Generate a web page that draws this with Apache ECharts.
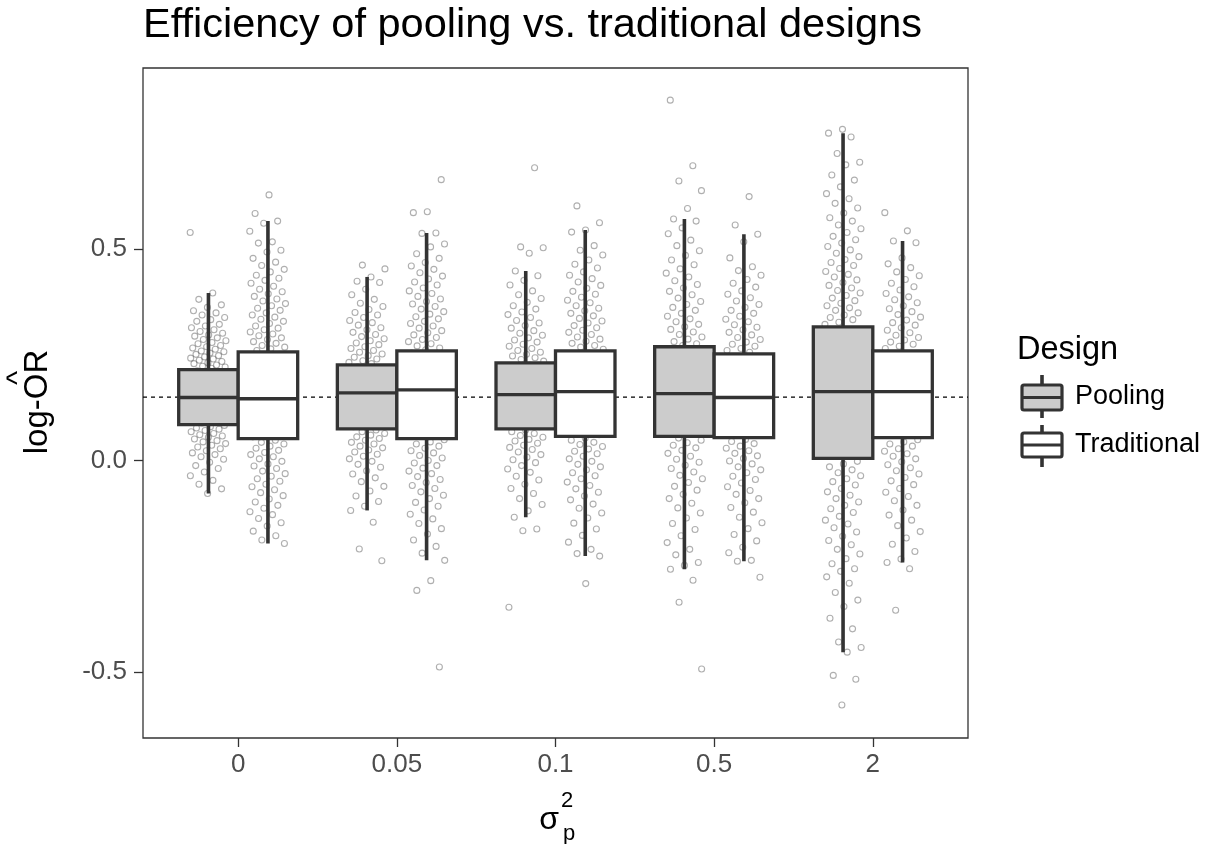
<!DOCTYPE html>
<html>
<head>
<meta charset="utf-8">
<script src="https://cdn.jsdelivr.net/npm/echarts@6/dist/echarts.min.js"></script>
<style>
html,body{margin:0;padding:0;background:#fff;}
#chart{width:1209px;height:844px;}
</style>
</head>
<body>
<div id="chart"></div>
<script>
// ---------------- data ----------------
const categories = ['0', '0.05', '0.1', '0.5', '2'];
const designs = ['Pooling', 'Traditional'];
const yTicks = [-0.5, 0, 0.5];
const trueLogOR = 0.15;

// [lower whisker, Q1, median, Q3, upper whisker]
const poolingStats = [
  [-0.078, 0.085, 0.149, 0.215, 0.396],
  [-0.118, 0.075, 0.160, 0.226, 0.434],
  [-0.134, 0.075, 0.156, 0.231, 0.448],
  [-0.257, 0.057, 0.158, 0.269, 0.571],
  [-0.453, 0.005, 0.163, 0.316, 0.774]
];
const traditionalStats = [
  [-0.196, 0.052, 0.146, 0.257, 0.566],
  [-0.236, 0.052, 0.167, 0.259, 0.538],
  [-0.226, 0.057, 0.163, 0.259, 0.545],
  [-0.238, 0.054, 0.149, 0.252, 0.535],
  [-0.241, 0.054, 0.163, 0.259, 0.519]
];

// individual estimates
const pooling0 = [0.539,0.396,0.381,0.368,0.362,0.354,0.349,0.344,0.338,0.333,0.329,0.322,0.318,0.314,0.309,0.305,0.301,0.297,0.294,0.290,0.286,0.283,0.279,0.276,0.272,0.269,0.266,0.263,0.259,0.257,0.254,0.251,0.248,0.245,0.242,0.240,0.237,0.234,0.231,0.229,0.226,0.223,0.221,0.218,
  0.212,0.204,0.197,0.189,0.183,0.176,0.168,0.161,0.155,0.149,0.144,0.137,0.130,0.122,0.115,0.108,0.101,0.094,0.089,
  0.083,0.080,0.077,0.074,0.071,0.068,0.064,0.061,0.058,0.055,0.051,0.047,0.044,0.040,0.036,0.032,0.028,0.023,0.018,0.014,0.009,0.003,-0.004,-0.012,-0.019,-0.027,-0.036,-0.047,-0.056,-0.067,-0.078];
const traditional0 = [0.628,0.584,0.566,0.561,0.542,0.517,0.514,0.497,0.493,0.478,0.469,0.461,0.452,0.446,0.438,0.431,0.426,0.419,0.412,0.405,0.399,0.394,0.388,0.382,0.377,0.371,0.366,0.360,0.355,0.349,0.344,0.339,0.334,0.329,0.324,0.318,0.313,0.309,0.304,0.299,0.295,0.290,0.286,0.281,0.277,0.272,0.268,0.264,0.260,
  0.251,0.238,0.224,0.210,0.196,0.183,0.170,0.158,0.146,0.134,0.121,0.108,0.094,0.081,0.067,0.056,
  0.048,0.043,0.039,0.034,0.029,0.024,0.019,0.014,0.009,0.004,-0.002,-0.008,-0.013,-0.019,-0.025,-0.031,-0.037,-0.043,-0.049,-0.056,-0.062,-0.069,-0.076,-0.083,-0.091,-0.098,-0.106,-0.113,-0.121,-0.128,-0.137,-0.147,-0.155,-0.167,-0.178,-0.188,-0.196];
const pooling005 = [0.462,0.453,0.434,0.424,0.421,0.405,0.392,0.381,0.372,0.364,0.357,0.350,0.344,0.338,0.331,0.326,0.320,0.314,0.309,0.303,0.298,0.293,0.288,0.283,0.278,0.274,0.269,0.265,0.260,0.256,0.252,0.248,0.244,0.240,0.236,0.232,0.229,
  0.221,0.212,0.203,0.193,0.184,0.176,0.168,0.160,0.152,0.143,0.134,0.125,0.116,0.106,0.097,0.088,0.080,
  0.072,0.068,0.064,0.060,0.056,0.052,0.048,0.043,0.039,0.034,0.030,0.025,0.020,0.015,0.010,0.004,-0.002,-0.009,-0.016,-0.024,-0.032,-0.041,-0.050,-0.061,-0.072,-0.084,-0.097,-0.108,-0.118,-0.146,-0.209,-0.237];
const traditional005 = [0.664,0.588,0.586,0.538,0.537,0.512,0.505,0.489,0.478,0.468,0.460,0.452,0.444,0.436,0.429,0.422,0.415,0.408,0.401,0.395,0.388,0.382,0.376,0.370,0.364,0.358,0.352,0.346,0.340,0.335,0.329,0.324,0.318,0.313,0.307,0.302,0.297,0.291,0.286,0.281,0.276,0.271,0.266,0.262,
  0.254,0.240,0.226,0.212,0.198,0.185,0.172,0.160,0.148,0.136,0.123,0.110,0.097,0.084,0.071,0.058,
  0.049,0.044,0.039,0.034,0.029,0.023,0.018,0.012,0.006,0.000,-0.006,-0.012,-0.018,-0.025,-0.031,-0.038,-0.045,-0.052,-0.059,-0.066,-0.074,-0.082,-0.090,-0.099,-0.108,-0.117,-0.127,-0.138,-0.149,-0.161,-0.174,-0.188,-0.203,-0.219,-0.236,-0.284,-0.307,-0.488];
const pooling01 = [0.692,0.505,0.503,0.490,0.448,0.437,0.426,0.415,0.401,0.392,0.383,0.374,0.366,0.358,0.351,0.345,0.338,0.331,0.325,0.319,0.313,0.307,0.301,0.296,0.290,0.285,0.280,0.275,0.270,0.265,0.260,0.256,0.251,0.247,0.243,0.239,0.235,
  0.226,0.216,0.206,0.196,0.186,0.176,0.166,0.156,0.147,0.138,0.128,0.118,0.108,0.098,0.088,0.080,
  0.072,0.068,0.064,0.059,0.055,0.050,0.046,0.041,0.036,0.031,0.026,0.020,0.014,0.008,0.002,-0.005,-0.012,-0.020,-0.028,-0.037,-0.046,-0.056,-0.066,-0.078,-0.090,-0.104,-0.119,-0.134,-0.162,-0.166,-0.347];
const traditional01 = [0.602,0.562,0.545,0.540,0.508,0.497,0.486,0.474,0.464,0.455,0.446,0.438,0.430,0.422,0.414,0.407,0.400,0.393,0.386,0.379,0.373,0.366,0.360,0.354,0.348,0.342,0.336,0.330,0.325,0.319,0.314,0.308,0.303,0.298,0.292,0.287,0.282,0.277,0.272,0.268,0.263,
  0.254,0.240,0.226,0.212,0.199,0.186,0.173,0.161,0.149,0.137,0.124,0.111,0.098,0.085,0.072,0.061,
  0.053,0.048,0.043,0.038,0.033,0.027,0.022,0.016,0.010,0.004,-0.002,-0.009,-0.015,-0.022,-0.029,-0.036,-0.043,-0.051,-0.059,-0.067,-0.075,-0.084,-0.093,-0.103,-0.113,-0.124,-0.136,-0.148,-0.162,-0.177,-0.193,-0.210,-0.220,-0.226,-0.291];
const pooling05 = [0.852,0.697,0.661,0.638,0.596,0.571,0.566,0.550,0.536,0.521,0.508,0.496,0.485,0.474,0.463,0.453,0.443,0.434,0.425,0.416,0.408,0.400,0.392,0.384,0.376,0.369,0.362,0.355,0.348,0.341,0.335,0.328,0.322,0.316,0.310,0.304,0.298,0.292,0.287,0.281,0.276,0.272,
  0.262,0.247,0.232,0.218,0.203,0.188,0.173,0.158,0.145,0.131,0.117,0.103,0.089,0.075,0.062,
  0.053,0.048,0.042,0.036,0.030,0.024,0.017,0.010,0.003,-0.004,-0.011,-0.019,-0.027,-0.035,-0.043,-0.052,-0.061,-0.070,-0.080,-0.090,-0.101,-0.112,-0.124,-0.136,-0.149,-0.163,-0.178,-0.194,-0.210,-0.223,-0.241,-0.248,-0.257,-0.283,-0.335,-0.493];
const traditional05 = [0.624,0.557,0.535,0.517,0.479,0.458,0.449,0.438,0.428,0.419,0.410,0.401,0.393,0.385,0.377,0.369,0.362,0.355,0.348,0.341,0.334,0.328,0.321,0.315,0.309,0.303,0.297,0.291,0.286,0.280,0.275,0.270,0.265,0.260,0.256,
  0.246,0.233,0.219,0.206,0.192,0.179,0.165,0.152,0.139,0.126,0.113,0.100,0.087,0.074,0.061,
  0.050,0.045,0.040,0.034,0.029,0.023,0.017,0.011,0.005,-0.001,-0.008,-0.015,-0.022,-0.029,-0.037,-0.045,-0.053,-0.062,-0.071,-0.080,-0.090,-0.100,-0.111,-0.122,-0.134,-0.147,-0.161,-0.175,-0.190,-0.205,-0.218,-0.236,-0.238,-0.276];
const pooling2 = [0.783,0.774,0.765,0.726,0.705,0.699,0.675,0.663,0.647,0.631,0.619,0.608,0.597,0.585,0.574,0.566,0.557,0.548,0.539,0.530,0.522,0.514,0.506,0.498,0.490,0.482,0.475,0.468,0.461,0.454,0.447,0.440,0.434,0.427,0.421,0.414,0.408,0.402,0.396,0.390,0.384,0.378,0.372,0.366,0.361,0.355,0.349,0.344,0.338,0.333,0.327,0.322,
  0.306,0.286,0.266,0.246,0.226,0.206,0.185,0.163,0.142,0.121,0.100,0.080,0.060,0.040,0.020,
  -0.002,-0.008,-0.015,-0.022,-0.029,-0.036,-0.043,-0.050,-0.058,-0.066,-0.074,-0.082,-0.090,-0.098,-0.106,-0.114,-0.123,-0.132,-0.141,-0.150,-0.159,-0.169,-0.179,-0.189,-0.199,-0.210,-0.221,-0.232,-0.244,-0.256,-0.262,-0.275,-0.290,-0.312,-0.330,-0.345,-0.373,-0.398,-0.429,-0.442,-0.453,-0.508,-0.517,-0.578];
const traditional2 = [0.586,0.543,0.519,0.515,0.479,0.465,0.456,0.446,0.437,0.428,0.419,0.411,0.403,0.395,0.387,0.380,0.373,0.366,0.359,0.352,0.345,0.339,0.332,0.326,0.320,0.314,0.308,0.302,0.296,0.291,0.285,0.280,0.275,0.270,0.265,
  0.252,0.238,0.224,0.210,0.196,0.183,0.170,0.157,0.144,0.131,0.118,0.104,0.091,0.078,0.065,
  0.049,0.044,0.039,0.034,0.028,0.022,0.016,0.010,0.004,-0.003,-0.010,-0.017,-0.024,-0.032,-0.040,-0.048,-0.057,-0.066,-0.075,-0.085,-0.095,-0.106,-0.117,-0.129,-0.141,-0.154,-0.168,-0.183,-0.198,-0.215,-0.233,-0.241,-0.256,-0.354];

const poolingPoints = [pooling0, pooling005, pooling01, pooling05, pooling2];
const traditionalPoints = [traditional0, traditional005, traditional01, traditional05, traditional2];

// ---------------- build ----------------
const DODGE = 0.1875, BOXW = 0.375, JIT = 0.23;
function jitter(i, k, d) {
  const f = (i * 0.6180339887 + k * 0.371 + d * 0.53) % 1;
  return (f - 0.5) * JIT;
}
function pts(arrs, d) {
  const out = [];
  arrs.forEach((arr, k) => {
    const cx = k + 1 + (d === 0 ? -DODGE : DODGE);
    arr.forEach((v, i) => out.push([cx + jitter(i, k, d), v]));
  });
  return out;
}
function boxes(stats, d) {
  return stats.map((s, k) => [k + 1 + (d === 0 ? -DODGE : DODGE), s[0], s[1], s[2], s[3], s[4], d]);
}
const FONT = '"Liberation Sans", Arial, sans-serif';
const DARK = '#333333';

function renderBox(params, api) {
  const x = api.value(0);
  const lo = api.coord([x, api.value(1)]);
  const q1 = api.coord([x, api.value(2)]);
  const med = api.coord([x, api.value(3)]);
  const q3 = api.coord([x, api.value(4)]);
  const hi = api.coord([x, api.value(5)]);
  const w = api.size([BOXW, 0])[0];
  const fill = api.value(6) === 0 ? '#CCCCCC' : '#FFFFFF';
  return {
    type: 'group',
    children: [
      { type: 'line', shape: { x1: lo[0], y1: lo[1], x2: hi[0], y2: hi[1] }, style: { stroke: DARK, lineWidth: 3.6 } },
      { type: 'rect', shape: { x: lo[0] - w / 2, y: q3[1], width: w, height: q1[1] - q3[1] }, style: { fill: fill, stroke: DARK, lineWidth: 3.3 } },
      { type: 'line', shape: { x1: lo[0] - w / 2, y1: med[1], x2: lo[0] + w / 2, y2: med[1] }, style: { stroke: DARK, lineWidth: 3.3 } }
    ]
  };
}

const pointStyle = { color: 'rgba(0,0,0,0)', borderColor: 'rgba(55,55,55,0.5)', borderWidth: 1.1 };

const chart = echarts.init(document.getElementById('chart'), null, { renderer: 'canvas' });
const option = {
  animation: false,
  backgroundColor: '#ffffff',
  grid: { left: 143, top: 68, width: 825, height: 670, show: true, borderColor: DARK, borderWidth: 1.3, backgroundColor: '#fff' },
  xAxis: {
    type: 'value', min: 0.4, max: 5.6,
    axisLine: { show: false, onZero: false },
    splitLine: { show: false },
    axisTick: { show: true, customValues: [1, 2, 3, 4, 5], length: 9, lineStyle: { color: DARK, width: 1.3 } },
    axisLabel: { customValues: [1, 2, 3, 4, 5], formatter: v => categories[Math.round(v) - 1] || '', color: '#4D4D4D', fontSize: 26, fontFamily: FONT, margin: 14 }
  },
  yAxis: {
    type: 'value', min: -0.656, max: 0.928,
    axisLine: { show: false, onZero: false },
    splitLine: { show: false },
    axisTick: { show: true, customValues: yTicks, length: 9, lineStyle: { color: DARK, width: 1.3 } },
    axisLabel: { customValues: yTicks, formatter: v => v.toFixed(1), color: '#4D4D4D', fontSize: 26, fontFamily: FONT, margin: 16 }
  },
  series: [
    { type: 'scatter', name: 'Pooling points', data: pts(poolingPoints, 0), symbol: 'circle', symbolSize: 6, itemStyle: pointStyle, z: 1, silent: true },
    { type: 'scatter', name: 'Traditional points', data: pts(traditionalPoints, 1), symbol: 'circle', symbolSize: 6, itemStyle: pointStyle, z: 1, silent: true },
    { type: 'line', name: 'true', data: [[0.4, trueLogOR], [5.6, trueLogOR]], symbol: 'none', lineStyle: { color: '#000', width: 1.1, type: [4, 4] }, z: 2, silent: true },
    { type: 'custom', name: designs[0], data: boxes(poolingStats, 0), renderItem: renderBox, encode: { x: 0, y: [1, 2, 3, 4, 5] }, z: 3, silent: true },
    { type: 'custom', name: designs[1], data: boxes(traditionalStats, 1), renderItem: renderBox, encode: { x: 0, y: [1, 2, 3, 4, 5] }, z: 3, silent: true }
  ],
  graphic: [
    { type: 'text', left: 143, top: 5, style: { text: 'Efficiency of pooling vs. traditional designs', font: '41.5px ' + FONT, fill: '#000' } },
    { type: 'text', x: 38, y: 402, rotation: Math.PI / 2, style: { text: 'log-OR', font: '33px ' + FONT, fill: '#000', align: 'center', verticalAlign: 'middle' } },
    { type: 'text', x: 19, y: 378, rotation: Math.PI / 2, style: { text: '^', font: '30px ' + FONT, fill: '#000', align: 'center', verticalAlign: 'middle' } },
    { type: 'text', x: 549, y: 820, style: { text: 'σ', font: '32px ' + FONT, fill: '#000', align: 'center', verticalAlign: 'middle' } },
    { type: 'text', x: 567, y: 801, style: { text: '2', font: '22px ' + FONT, fill: '#000', align: 'center', verticalAlign: 'middle' } },
    { type: 'text', x: 569, y: 834, style: { text: 'p', font: '22px ' + FONT, fill: '#000', align: 'center', verticalAlign: 'middle' } },
    // legend
    { type: 'text', x: 1017, y: 350, style: { text: 'Design', font: '32.5px ' + FONT, fill: '#000', align: 'left', verticalAlign: 'middle' } },
    { type: 'line', shape: { x1: 1042, y1: 375, x2: 1042, y2: 418 }, style: { stroke: DARK, lineWidth: 3.6 } },
    { type: 'rect', shape: { x: 1022, y: 385, width: 40, height: 25, r: 2 }, style: { fill: '#CCCCCC', stroke: DARK, lineWidth: 3.2 } },
    { type: 'line', shape: { x1: 1022, y1: 397.5, x2: 1062, y2: 397.5 }, style: { stroke: DARK, lineWidth: 3.2 } },
    { type: 'text', x: 1075, y: 397, style: { text: designs[0], font: '27px ' + FONT, fill: '#000', align: 'left', verticalAlign: 'middle' } },
    { type: 'line', shape: { x1: 1042, y1: 425, x2: 1042, y2: 467 }, style: { stroke: DARK, lineWidth: 3.6 } },
    { type: 'rect', shape: { x: 1022, y: 433, width: 40, height: 24, r: 2 }, style: { fill: '#FFFFFF', stroke: DARK, lineWidth: 3.2 } },
    { type: 'line', shape: { x1: 1022, y1: 445, x2: 1062, y2: 445 }, style: { stroke: DARK, lineWidth: 3.2 } },
    { type: 'text', x: 1075, y: 445, style: { text: designs[1], font: '27px ' + FONT, fill: '#000', align: 'left', verticalAlign: 'middle' } }
  ]
};
chart.setOption(option);
</script>
</body>
</html>
